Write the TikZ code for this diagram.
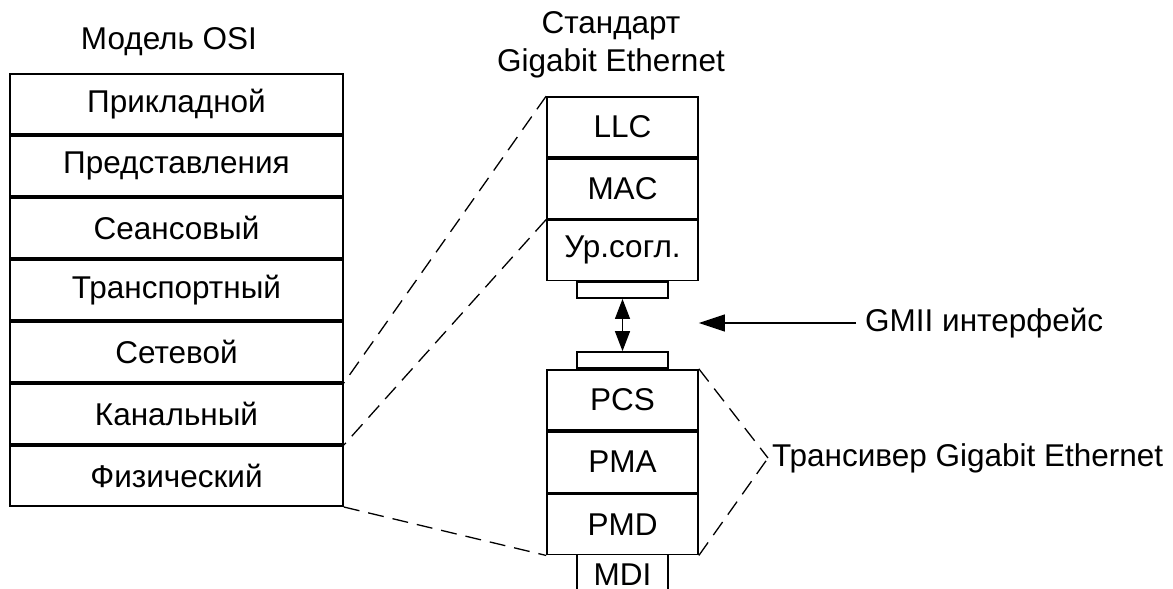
\documentclass[tikz,border=0pt]{standalone}
\usepackage{fontspec}
\setmainfont{Liberation Sans}
\usetikzlibrary{arrows.meta, positioning}

\begin{document}
\begin{tikzpicture}[
    x=1pt, y=-1pt,
    every node/.style={font=\fontsize{31.5}{38}\selectfont},
    osilayer/.style={rectangle, draw, line width=1.7pt, minimum width=333pt, minimum height=60.3pt, inner sep=0pt},
    gelayer/.style={rectangle, draw, line width=1.7pt, minimum width=151pt, minimum height=60pt, inner sep=0pt},
    port/.style={rectangle, draw, line width=1.7pt, minimum width=91pt, minimum height=16pt, inner sep=0pt},
    map/.style={line width=1.3pt, dash pattern=on 16pt off 9pt},
    arr/.style={line width=1.3pt},
]
\useasboundingbox (0,0) rectangle (1173,589);

% OSI model
\node at (169,42) (osititle) {Модель OSI};
\node[osilayer] at (176.5,104) (osi1) {Прикладной};
\node[osilayer, below=0pt of osi1] (osi2) {Представления};
\node[osilayer, below=0pt of osi2] (osi3) {Сеансовый};
\node[osilayer, below=0pt of osi3] (osi4) {Транспортный};
\node[osilayer, below=0pt of osi4] (osi5) {Сетевой};
\node[osilayer, below=0pt of osi5] (osi6) {Канальный};
\node[osilayer, below=0pt of osi6] (osi7) {Физический};

% Gigabit Ethernet
\node[align=center] at (611,45) (getitle) {Стандарт\\Gigabit Ethernet};
\node[gelayer] at (622.5,127) (llc) {LLC};
\node[gelayer, below=0pt of llc] (mac) {MAC};
\node[gelayer, below=0pt of mac] (rs) {Ур.согл.};
\node[port, below=0pt of rs] (gmiiup) {};

\node[port] at (622.5,360) (gmiilow) {};
\node[gelayer, below=0pt of gmiilow, minimum height=60.5pt] (pcs) {PCS};
\node[gelayer, below=0pt of pcs, minimum height=60.5pt] (pma) {PMA};
\node[gelayer, below=0pt of pma, minimum height=60.5pt] (pmd) {PMD};
\node[below=0pt of pmd, minimum width=91pt, minimum height=38pt, inner sep=0pt] (mdi) {MDI};
\draw[line width=1.7pt] (mdi.north west) -- (mdi.south west |- 0,589);
\draw[line width=1.7pt] (mdi.north east) -- (mdi.south east |- 0,589);

\draw[arr, {Triangle[length=20pt,width=15pt]}-{Triangle[length=20pt,width=15pt]}] (gmiiup) -- (gmiilow);

\node[anchor=west, inner sep=9pt] at (856,323) (gmii) {GMII интерфейс};
\draw[arr, -{Triangle[length=26pt,width=17pt]}] (gmii.west) -- (gmii.west -| pcs.east);

\node[anchor=west, inner sep=4pt] at (768,458) (trx) {Трансивер Gigabit Ethernet};
\draw[map] (pcs.north east) -- (trx.west);
\draw[map] (pmd.south east) -- (trx.west);

% mapping
\draw[map] (llc.north west) -- (osi5.south east);
\draw[map] (rs.north west) -- (osi6.south east);
\draw[map] (osi7.south east) -- (pmd.south west);

\end{tikzpicture}
\end{document}
